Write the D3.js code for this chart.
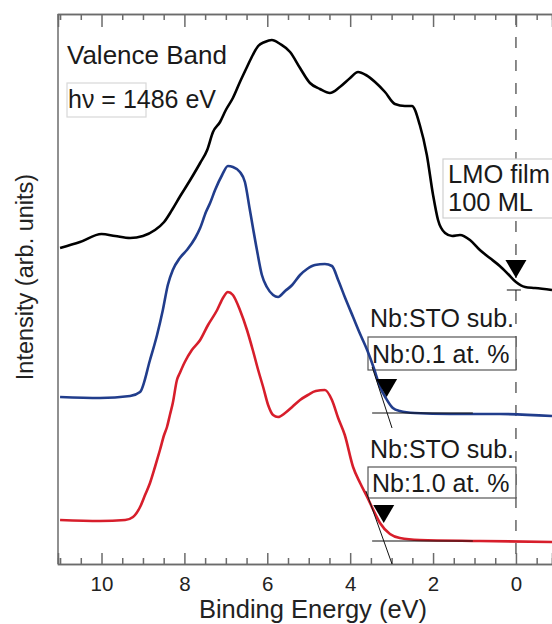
<!DOCTYPE html>
<html>
<head>
<meta charset="utf-8">
<script src="https://cdn.jsdelivr.net/npm/d3@7"></script>
<style>
  body { margin: 0; background: #fff; }
  text { font-family: "Liberation Sans", Arial, Helvetica, sans-serif; }
</style>
</head>
<body>
<svg id="chart"></svg>
<script>
// binding energy (eV), intensity (arb. units, offset per spectrum)
const lmoFilm = [
  [11.0,316],[10.52,322],[10.0,330],[9.67,328],[9.31,326],[9.0,328],[8.71,334],[8.49,342],
  [8.30,354],[8.10,368],[7.86,384],[7.62,401],[7.45,414],[7.31,432],[7.14,442],[7.0,454],
  [6.83,466],[6.66,482],[6.49,497],[6.35,509],[6.22,518],[6.06,522],[5.89,524],[5.69,520],
  [5.45,512],[5.21,496],[4.97,481],[4.73,475],[4.49,471],[4.25,477],[4.0,486],[3.81,492],
  [3.62,489],[3.40,482],[3.16,472],[2.92,460],[2.68,458],[2.51,458],[2.32,439],[2.15,409],
  [2.0,369],[1.88,344],[1.71,331],[1.54,328],[1.35,329],[1.11,324],[0.87,314],[0.63,306],
  [0.39,298],[0.19,290],[0.0,282],[-0.22,277],[-0.46,276],[-0.87,274]
]
const nbSto01 = [
  [11.0,167],[10.04,166],[9.31,168],[9.07,172],[8.83,204],[8.66,229],[8.52,254],[8.40,279],
  [8.28,294],[8.11,306],[7.94,314],[7.74,326],[7.62,336],[7.48,352],[7.38,361],[7.26,374],
  [7.09,389],[6.95,398],[6.83,397],[6.66,392],[6.54,382],[6.42,354],[6.25,314],[6.13,289],
  [6.01,277],[5.86,269],[5.74,267],[5.57,273],[5.40,279],[5.21,289],[5.04,295],[4.85,299],
  [4.61,300],[4.44,298],[4.29,284],[4.13,267],[3.93,247],[3.76,230],[3.59,214],[3.43,196],
  [3.28,177],[3.14,166],[2.97,156],[2.80,153],[2.44,151],[1.59,150],[0.39,150],[-0.87,148]
]
const nbSto10 = [
  [11.0,44],[10.04,43],[9.43,44],[9.24,47],[9.07,57],[8.95,69],[8.83,81],[8.71,97],
  [8.59,114],[8.49,129],[8.42,137],[8.35,149],[8.28,161],[8.18,184],[8.11,191],[7.99,202],
  [7.82,214],[7.62,224],[7.43,239],[7.21,254],[7.07,266],[6.95,272],[6.83,269],[6.66,254],
  [6.49,234],[6.35,214],[6.22,194],[6.10,177],[5.98,159],[5.86,149],[5.74,147],[5.57,151],
  [5.40,157],[5.21,164],[5.02,169],[4.83,173],[4.61,174],[4.44,164],[4.29,146],[4.13,129],
  [3.93,97],[3.76,81],[3.59,67],[3.43,53],[3.28,41],[3.04,30],[2.80,26],[2.32,24],
  [0.87,23],[-0.87,22]
]

// valence band maximum markers: [energy, intensity at arrow tip]
const onsets = [[0.0,286],[3.12,167],[3.19,41]]

// linear extrapolation lines: [[e0,i0],[e1,i1]]
const guideLines = [
  [[3.47,151],[1.04,151]],
  [[3.47,197],[2.99,136]],
  [[3.47,23],[1.04,23]],
  [[3.62,73],[2.99,0]],
  [[0.22,274],[-0.12,274]]
]

const majorTicks = [10, 8, 6, 4, 2, 0]
const minorTicks = d3.range(11, -0.9, -0.5).filter(d => !majorTicks.includes(d))

const width = 552
const height = 624
const margin = { top: 14, right: 0, bottom: 60, left: 58 }

const svg = d3.select('#chart')
  .attr('width', width)
  .attr('height', height)

const x = d3.scaleLinear()
  .domain([11.05, -0.87])
  .range([margin.left, width - margin.right])

const y = d3.scaleLinear()
  .domain([0, 550])
  .range([height - margin.bottom, margin.top])

const axisColor = '#6b6b6b'

// dashed line at E = 0
svg.append('line')
  .attr('x1', x(0)).attr('x2', x(0))
  .attr('y1', y(550)).attr('y2', y(0))
  .attr('stroke', '#6e6e6e')
  .attr('stroke-width', 1.6)
  .attr('stroke-dasharray', '11,12')

// axes
const bottomAxis = svg.append('g').attr('transform', `translate(0,${y(0)})`)
bottomAxis.call(d3.axisBottom(x).tickValues(minorTicks).tickSize(-6).tickFormat(''))
bottomAxis.append('g').call(d3.axisBottom(x).tickValues(majorTicks).tickSize(-11).tickPadding(12).tickFormat(d3.format('d')))
const topAxis = svg.append('g').attr('transform', `translate(0,${y(550)})`)
topAxis.call(d3.axisTop(x).tickValues(minorTicks).tickSize(-6).tickFormat(''))
topAxis.append('g').call(d3.axisTop(x).tickValues(majorTicks).tickSize(-13).tickFormat(''))

svg.selectAll('.domain').attr('stroke', axisColor).attr('stroke-width', 1.5)
svg.selectAll('.tick line').attr('stroke', axisColor).attr('stroke-width', 1.5)
svg.selectAll('.tick text').attr('font-size', 20.5).attr('fill', '#222')
  .attr('font-family', '"Liberation Sans", Arial, sans-serif')

svg.append('line')
  .attr('x1', margin.left).attr('x2', margin.left)
  .attr('y1', y(550)).attr('y2', y(0))
  .attr('stroke', axisColor).attr('stroke-width', 1.5)

// axis titles
svg.append('text')
  .attr('x', 313).attr('y', 618)
  .attr('text-anchor', 'middle')
  .attr('font-size', 25.5)
  .attr('fill', '#222')
  .text('Binding Energy (eV)')

svg.append('text')
  .attr('transform', `translate(33,277) rotate(-90)`)
  .attr('text-anchor', 'middle')
  .attr('font-size', 23.5)
  .attr('fill', '#222')
  .text('Intensity (arb. units)')

// label boxes
const boxes = [
  { x0: 67, y0: 83, x1: 146, y1: 117, stroke: '#d8d8d8', fill: 'none' },
  { x0: 443, y0: 159, x1: 560, y1: 218, stroke: '#d0d0d0', fill: '#fff' },
  { x0: 368, y0: 337, x1: x(0), y1: 370, stroke: '#555', fill: '#fff' },
  { x0: 368, y0: 467, x1: x(0), y1: 498, stroke: '#555', fill: '#fff' }
]
svg.selectAll('.box')
  .data(boxes)
  .enter().append('rect')
  .attr('class', 'box')
  .attr('x', d => d.x0)
  .attr('y', d => d.y0)
  .attr('width', d => d.x1 - d.x0)
  .attr('height', d => d.y1 - d.y0)
  .attr('fill', d => d.fill)
  .attr('stroke', d => d.stroke)
  .attr('stroke-width', 1.2)

// spectra
const line = d3.line()
  .x(d => x(d[0]))
  .y(d => y(d[1]))
  .curve(d3.curveMonotoneX)

const series = [
  { data: lmoFilm, color: '#000000' },
  { data: nbSto01, color: '#213d8c' },
  { data: nbSto10, color: '#d71e2b' }
]
svg.selectAll('.spectrum')
  .data(series)
  .enter().append('path')
  .attr('class', 'spectrum')
  .attr('d', d => line(d.data))
  .attr('fill', 'none')
  .attr('stroke', d => d.color)
  .attr('stroke-width', 2.6)
  .attr('stroke-linejoin', 'round')

// extrapolation lines
svg.selectAll('.guide')
  .data(guideLines)
  .enter().append('line')
  .attr('class', 'guide')
  .attr('x1', d => x(d[0][0])).attr('y1', d => y(d[0][1]))
  .attr('x2', d => x(d[1][0])).attr('y2', d => y(d[1][1]))
  .attr('stroke', '#111')
  .attr('stroke-width', 1)

// onset arrows
svg.selectAll('.onset')
  .data(onsets)
  .enter().append('path')
  .attr('class', 'onset')
  .attr('d', d => {
    const tx = x(d[0]), ty = y(d[1])
    return `M${tx - 10.5},${ty - 18}L${tx + 10.5},${ty - 18}L${tx},${ty}Z`
  })
  .attr('fill', '#000')

// annotations
const labels = [
  { text: 'Valence Band', x: 67, y: 64, size: 26 },
  { text: 'hν = 1486 eV', x: 68, y: 108, size: 25 },
  { text: 'LMO film', x: 448, y: 183, size: 25.5 },
  { text: '100 ML', x: 448, y: 211, size: 25.5 },
  { text: 'Nb:STO sub.', x: 370, y: 327, size: 25 },
  { text: 'Nb:0.1 at. %', x: 372, y: 363, size: 25 },
  { text: 'Nb:STO sub.', x: 370, y: 458, size: 25 },
  { text: 'Nb:1.0 at. %', x: 372, y: 492, size: 25 }
]
svg.selectAll('.label')
  .data(labels)
  .enter().append('text')
  .attr('class', 'label')
  .attr('x', d => d.x)
  .attr('y', d => d.y)
  .attr('font-size', d => d.size)
  .attr('fill', '#1a1a1a')
  .text(d => d.text)
</script>
</body>
</html>
